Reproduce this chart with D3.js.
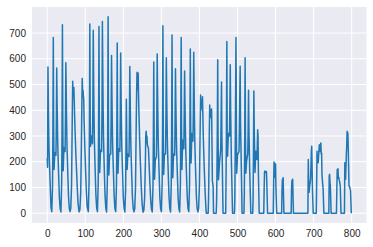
<!DOCTYPE html>
<html>
<head>
<meta charset="utf-8">
<script src="https://cdn.jsdelivr.net/npm/d3@7"></script>
<style>
  body { margin: 0; background: #fff; }
  text { font-family: "Liberation Sans", Arial, sans-serif; }
</style>
</head>
<body>
<div id="chart"></div>
<script>
// vertices of the series (x = hour index, y = count)
var hours = [
  0, 1, 2, 3, 4, 5, 7, 9, 10,
  12, 14, 15, 16, 17, 18, 20, 23, 24, 25, 26, 27, 28, 30, 32, 34,
  36, 38, 39, 40, 41, 42, 44, 47, 48, 49, 50, 51, 52, 54, 56, 58,
  60, 62, 64, 65, 66, 67, 68, 69, 70, 71, 72, 73, 75, 77, 79, 81, 83,
  84, 86, 88, 89, 90, 91, 92, 93, 94, 95, 96, 97, 99, 101, 103, 105,
  108, 110, 111, 112, 113, 114, 116, 119, 120, 121, 122, 123, 124, 126, 128, 130,
  132, 134, 135, 136, 137, 138, 140, 143, 144, 145, 146, 147, 148, 150, 152, 154,
  156, 158, 159, 160, 161, 162, 164, 167, 168, 169, 170, 171, 172, 174, 176, 178,
  180, 182, 183, 184, 185, 186, 188, 191, 192, 193, 194, 195, 196, 198, 200, 202,
  204, 206, 207, 208, 209, 210, 212, 215, 216, 217, 218, 219, 220, 222, 224, 226,
  228, 230, 232, 233, 234, 235, 236, 237, 238, 239, 240, 241, 243, 245, 247, 249, 251,
  252, 254, 256, 257, 258, 259, 260, 261, 262, 263, 264, 266, 268, 270, 272, 274,
  276, 278, 279, 280, 281, 282, 284, 287, 288, 289, 290, 291, 292, 294, 296, 298,
  300, 302, 303, 304, 305, 306, 308, 311, 312, 313, 314, 315, 316, 318, 320, 322,
  324, 326, 327, 328, 329, 330, 332, 335, 336, 337, 338, 339, 340, 342, 344, 346,
  348, 350, 351, 352, 353, 354, 356, 359, 360, 361, 362, 363, 364, 366, 368, 370,
  372, 374, 375, 376, 377, 378, 380, 383, 384, 385, 386, 387, 388, 390, 392, 394,
  396, 398, 400, 401, 402, 403, 404, 405, 406, 407, 408, 409, 410, 411, 413, 415, 417, 418,
  423, 424, 425, 426, 427, 428, 429, 430, 431, 432, 433, 434, 436, 437,
  444, 445, 446, 447, 448, 449, 450, 453, 456, 457, 458, 459, 460, 462,
  469, 470, 471, 472, 473, 474, 476, 479, 480, 481, 482, 484, 487,
  492, 493, 494, 495, 496, 498, 500, 504, 505, 506, 507, 508, 510, 512,
  517, 518, 519, 520, 521, 522, 524, 527, 528, 529, 530, 532, 535,
  540, 541, 542, 543, 544, 546, 548, 550, 551, 552, 553, 554, 555, 557,
  569, 570, 571, 572, 574, 576, 577, 579,
  594, 595, 596, 597, 598, 599, 600, 601, 603,
  616, 617, 618, 619, 620, 621, 622,
  641, 642, 643, 644, 645, 646, 647,
  685, 686, 687, 688, 690, 691, 692, 693, 694, 695, 696, 697, 699,
  707, 708, 709, 710, 712, 713, 715, 716, 717, 719, 720, 721, 722, 724, 725, 727,
  740, 741, 742, 743, 744, 746,
  760, 761, 762, 763, 764, 765, 766, 767, 769, 770, 772,
  781, 782, 783, 784, 786, 787, 788, 789, 790, 791, 793, 795, 796, 797, 799
];
var counts = [
  215, 178, 568, 430, 310, 240, 150, 60, 22,
  6, 105, 320, 683, 330, 170, 235, 225, 350, 564, 430, 330, 250, 150, 60, 18,
  5, 115, 340, 732, 350, 165, 255, 240, 380, 585, 460, 350, 260, 160, 65, 20,
  6, 20, 110, 250, 390, 513, 455, 470, 488, 440, 380, 330, 240, 170, 100, 40, 12,
  5, 15, 80, 170, 290, 410, 523, 470, 478, 455, 443, 360, 250, 160, 80, 25,
  6, 120, 350, 735, 360, 260, 300, 270, 420, 711, 520, 380, 280, 170, 70, 20,
  6, 115, 340, 725, 340, 158, 245, 240, 400, 745, 560, 400, 290, 170, 70, 20,
  5, 120, 350, 763, 330, 148, 225, 230, 380, 613, 470, 350, 260, 160, 65, 18,
  6, 110, 330, 661, 320, 155, 250, 240, 380, 622, 470, 350, 260, 160, 60, 18,
  5, 90, 260, 443, 300, 170, 230, 220, 350, 570, 450, 340, 250, 150, 60, 18,
  5, 18, 100, 230, 360, 470, 548, 480, 500, 545, 460, 390, 280, 190, 110, 45, 12,
  4, 12, 60, 130, 200, 300, 318, 290, 300, 270, 260, 254, 180, 110, 50, 15,
  5, 110, 320, 587, 300, 132, 207, 220, 370, 619, 470, 350, 260, 160, 60, 18,
  6, 120, 350, 728, 330, 150, 230, 230, 380, 604, 460, 350, 260, 160, 65, 20,
  5, 115, 340, 692, 320, 138, 230, 225, 360, 561, 430, 330, 250, 150, 60, 18,
  5, 115, 340, 683, 330, 170, 284, 250, 380, 552, 430, 330, 250, 150, 60, 18,
  6, 110, 330, 638, 340, 195, 310, 280, 400, 625, 480, 360, 270, 160, 65, 18,
  5, 20, 110, 230, 350, 459, 400, 420, 440, 430, 452, 380, 305, 250, 160, 80, 20, 0,
  0, 60, 180, 320, 420, 370, 390, 380, 400, 405, 260, 125, 105, 0,
  0, 40, 150, 330, 596, 300, 130, 202, 250, 380, 510, 300, 196, 0,
  0, 150, 340, 667, 300, 221, 311, 300, 420, 577, 400, 200, 0,
  0, 60, 250, 450, 683, 155, 226, 240, 330, 450, 571, 350, 180, 0,
  0, 80, 300, 604, 300, 155, 203, 230, 330, 478, 330, 170, 0,
  0, 60, 250, 475, 330, 158, 241, 220, 209, 260, 324, 300, 150, 0,
  0, 90, 158, 164, 158, 162, 120, 0,
  0, 120, 199, 140, 194, 170, 190, 100, 0,
  0, 93, 132, 125, 138, 60, 0,
  0, 90, 128, 125, 132, 60, 0,
  0, 209, 120, 81, 110, 120, 132, 180, 240, 260, 180, 90, 0,
  0, 120, 241, 200, 196, 220, 266, 240, 250, 273, 230, 234, 150, 110, 93, 0,
  0, 145, 151, 120, 106, 0,
  0, 90, 170, 150, 173, 135, 140, 131, 116, 105, 0,
  0, 196, 170, 132, 228, 260, 318, 300, 312, 250, 106, 100, 93, 90, 0
];
var xTicks = [0, 100, 200, 300, 400, 500, 600, 700, 800];
var yTicks = [0, 100, 200, 300, 400, 500, 600, 700];

var data = hours.map(function(h, i) { return { x: h, y: counts[i] }; });

var width = 373,
    height = 247,
    margin = { top: 7, right: 6.5, bottom: 24, left: 32 };

// matplotlib style 5% margins around the data
var xExt = d3.extent(hours), yExt = d3.extent(counts);
var xPad = (xExt[1] - xExt[0]) * 0.05, yPad = (yExt[1] - yExt[0]) * 0.05;

var x = d3.scaleLinear()
    .domain([xExt[0] - xPad, xExt[1] + xPad])
    .range([margin.left, width - margin.right]);
var y = d3.scaleLinear()
    .domain([yExt[0] - yPad, yExt[1] + yPad])
    .range([height - margin.bottom, margin.top]);

var svg = d3.select("#chart").append("svg")
    .attr("width", width)
    .attr("height", height);

svg.append("rect")
    .attr("x", margin.left)
    .attr("y", margin.top)
    .attr("width", width - margin.left - margin.right)
    .attr("height", height - margin.top - margin.bottom)
    .attr("fill", "#eaeaf2");

// grid
svg.append("g").selectAll("line").data(xTicks).enter().append("line")
    .attr("x1", function(d) { return x(d); })
    .attr("x2", function(d) { return x(d); })
    .attr("y1", margin.top)
    .attr("y2", height - margin.bottom)
    .attr("stroke", "#fff").attr("stroke-width", 1);
svg.append("g").selectAll("line").data(yTicks).enter().append("line")
    .attr("y1", function(d) { return y(d); })
    .attr("y2", function(d) { return y(d); })
    .attr("x1", margin.left)
    .attr("x2", width - margin.right)
    .attr("stroke", "#fff").attr("stroke-width", 1);

// axes (no tick marks, no domain line)
var xAxis = svg.append("g")
    .attr("transform", "translate(0," + (height - margin.bottom) + ")")
    .call(d3.axisBottom(x).tickValues(xTicks).tickSize(0).tickPadding(7));
var yAxis = svg.append("g")
    .attr("transform", "translate(" + margin.left + ",0)")
    .call(d3.axisLeft(y).tickValues(yTicks).tickSize(0).tickPadding(6));
[xAxis, yAxis].forEach(function(a) {
  a.select(".domain").remove();
  a.selectAll("text")
    .attr("fill", "#262626")
    .style("font-size", "10px")
    .style("font-family", "'Liberation Sans', Arial, sans-serif");
});

// the series
svg.append("path")
    .datum(data)
    .attr("fill", "none")
    .attr("stroke", "#1f77b4")
    .attr("stroke-width", 1.5)
    .attr("stroke-linejoin", "round")
    .attr("d", d3.line()
      .x(function(d) { return x(d.x); })
      .y(function(d) { return y(d.y); }));
</script>
</body>
</html>
